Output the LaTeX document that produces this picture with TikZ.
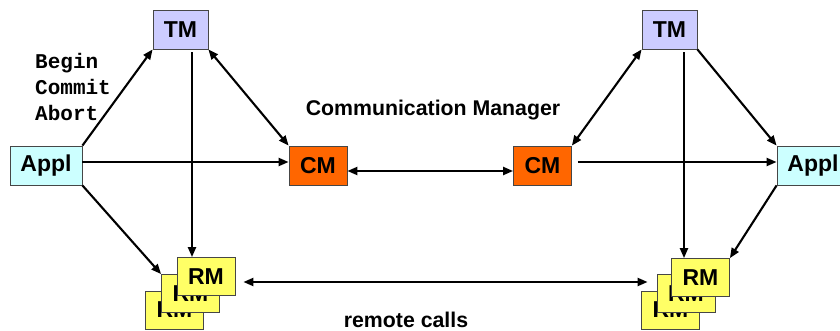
\documentclass[tikz,border=0pt]{standalone}
\usepackage{fontspec}
\setmainfont{Liberation Sans}
\newfontfamily\monofnt{Liberation Mono}
\usetikzlibrary{arrows.meta}
\definecolor{tmcol}{RGB}{204,204,255}
\definecolor{applcol}{RGB}{204,255,255}
\definecolor{cmcol}{RGB}{255,102,0}
\definecolor{rmcol}{RGB}{255,255,102}
\definecolor{edgecol}{RGB}{70,70,70}
\tikzset{
  box/.style={draw=edgecol, line width=0.8pt, inner sep=0pt, font=\fontsize{23}{26}\selectfont\bfseries},
  tmbox/.style={box, fill=tmcol, minimum width=55pt, minimum height=39pt},
  applbox/.style={box, fill=applcol, minimum width=72pt, minimum height=39pt},
  cmbox/.style={box, fill=cmcol, minimum width=58pt, minimum height=39pt},
  rmbox/.style={box, fill=rmcol, minimum width=58pt, minimum height=38pt},
  conn/.style={line width=2.1pt, -{Triangle[length=10pt,width=8pt]}},
  conn2/.style={line width=2.1pt, {Triangle[length=10pt,width=8pt]}-{Triangle[length=10pt,width=8pt]}},
  cmdtext/.style={anchor=base west, inner sep=0pt, font=\monofnt\fontsize{21}{24}\selectfont\bfseries},
  lbl/.style={anchor=base, inner sep=0pt, font=\fontsize{21.3}{24}\selectfont\bfseries}
}
\begin{document}
\begin{tikzpicture}[x=1pt,y=-1pt]
\useasboundingbox (0,0) rectangle (840,331);
% left side
\node[tmbox] (tmL) at (180.5,29.5) {TM};
\node[applbox] (applL) at (46,165.5) {Appl};
\node[cmbox] (cmL) at (318,165.5) {CM};
\node[rmbox] (rmL3) at (174.5,310) {RM};
\node[rmbox] (rmL2) at (190.5,293.5) {RM};
\node[rmbox] (rmL1) at (206,276.5) {RM};
% right side
\node[tmbox] (tmR) at (669.5,29.5) {TM};
\node[applbox] (applR) at (813,165.5) {Appl};
\node[cmbox] (cmR) at (542.5,165.5) {CM};
\node[rmbox] (rmR3) at (670.5,310) {RM};
\node[rmbox] (rmR2) at (686,293.5) {RM};
\node[rmbox] (rmR1) at (700.5,277.5) {RM};
% texts
\node[cmdtext] (tBegin) at (35,69) {Begin};
\node[cmdtext] (tCommit) at (35,95) {Commit};
\node[cmdtext] (tAbort) at (35,121) {Abort};
\node[lbl] (tCM) at (433,116) {Communication Manager};
\node[lbl] (tRC) at (406,327) {remote calls};
% left connectors
\draw[conn] (applL.north east) -- (tmL.south west);
\draw[conn] ([yshift=3.5pt]applL.east) -- ([yshift=3.5pt]cmL.west);
\draw[conn] (applL.south east) -- (rmL2.north west);
\draw[conn, shorten <=3pt] ([xshift=11.5pt]tmL.south) -- ([xshift=11.5pt]tmL.south |- rmL1.north);
\draw[conn2] (tmL.south east) -- (cmL.north west);
% middle
\draw[conn2] ([yshift=-5.5pt]cmL.east) -- ([yshift=-5.5pt]cmL.east -| cmR.west);
\draw[conn2, shorten <=8pt, shorten >=9pt] ([yshift=-5.5pt]rmL1.east) -- ([yshift=-5.5pt]rmL1.east -| rmR2.west);
% right connectors
\draw[conn, shorten <=6pt] ([yshift=3.5pt]cmR.east) -- ([yshift=3.5pt]applR.west);
\draw[conn2] (tmR.south west) -- (cmR.north east);
\draw[conn] (tmR.south east) -- (applR.north west);
\draw[conn, shorten <=3pt] ([xshift=14.5pt]tmR.south) -- ([xshift=14.5pt]tmR.south |- rmR1.north);
\draw[conn] (applR.south west) -- (rmR1.north east);
\end{tikzpicture}
\end{document}
